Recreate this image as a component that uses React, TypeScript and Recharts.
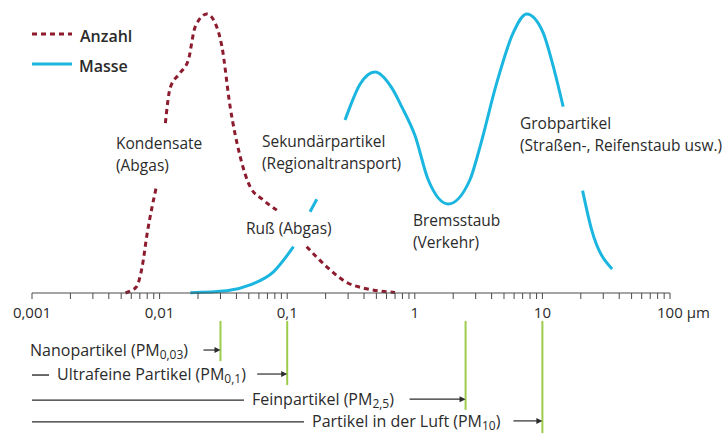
import { Line, LineChart, ReferenceLine, XAxis, YAxis } from "recharts";

// particle size in µm (log axis) and relative height of each curve; null = gap for a label
const anzahlSize = [0.0054, 0.0059, 0.0066, 0.0073, 0.008, 0.0087, 0.0095, 0.0103, 0.0111, 0.0121, 0.0145, 0.0168, 0.019, 0.0235, 0.0272, 0.0308, 0.0357, 0.0428, 0.0512, 0.0651, 0.0829, 0.11, 0.142, 0.204, 0.301, 0.393, 0.7];
const anzahlValue = [0, 0.7, 2.3, 9.4, 21.5, 30.5, 38.7, null, 60.9, 73.5, 78.9, 83.5, 95.4, 100, 96.8, 88.3, 66.8, 48.9, 38.1, 33.3, 29.7, null, 16.6, 9.4, 3.5, 1.8, 0.2];

const masseSize = [0.0174, 0.0337, 0.0512, 0.078, 0.112, 0.13, 0.151, 0.1706, 0.22, 0.284, 0.311, 0.372, 0.488, 0.66, 0.789, 1.0, 1.276, 1.83, 2.7, 3.24, 4.38, 5.9, 7.52, 10.09, 11.8, 14.55, 17, 20.65, 24.3, 35.2];
const masseValue = [0.1, 0.8, 2.9, 7.6, 16.6, null, 29.1, 33.6, null, 62, 66.8, 74.8, 79.2, 73.5, 66.8, 56.6, 40.5, 31.9, 40.5, 52.3, 75.2, 93.2, 100, 93.5, 83.5, 66.8, null, 36.7, 22.7, 8.6];

const decades = [0.001, 0.01, 0.1, 1, 10, 100];
const decadeLabels = ["0,001", "0,01", "0,1", "1", "10", "100"];
const minorSteps = [1, 2, 3, 4, 5, 6, 7, 8, 9];

// PM size classes below the axis
const pmLimits = [0.03, 0.1, 2.5, 10];
const pmNames = ["Nanopartikel", "Ultrafeine Partikel", "Feinpartikel", "Partikel in der Luft"];
const pmSubs = ["0,03", "0,1", "2,5", "10"];

// layout of the rows (y in chart units below zero, px offsets)
const rowLevel = [-20.8, -29.4, -38.4, -46.2];
const rowBottom = [-24.4, -33, -41.9, -50.2];
const rowTextOffset = [-2, 25, 220, 280];
const rowArrowLen = [17, 30, 56, 29];

const DARK_RED = "#8c1b2e";
const CYAN = "#1bb6e0";
const GREEN = "#9dcc4c";
const INK = "#2b2b2b";
const FONT = "'Open Sans', sans-serif";

const anzahlData = anzahlSize.map((x, i) => ({ x, y: anzahlValue[i] }));
const masseData = masseSize.map((x, i) => ({ x, y: masseValue[i] }));
const ticks = [...decades.slice(0, -1).flatMap((d) => minorSteps.map((m) => d * m)), 100];

const SizeTick = ({ x, y, payload }: any) => {
  const idx = decades.indexOf(payload.value);
  if (idx < 0) return <g />;
  if (idx === decades.length - 1) {
    return (
      <text x={x - 13} y={y + 17} fontSize={15} fill={INK} fontFamily={FONT}>
        {decadeLabels[idx]} µm
      </text>
    );
  }
  return (
    <text x={x} y={y + 17} textAnchor="middle" fontSize={15} fill={INK} fontFamily={FONT}>
      {decadeLabels[idx]}
    </text>
  );
};

const rowShape = (i: number) => (p: any) => {
  const { x1, y1, x2 } = p;
  const tx = x1 + rowTextOffset[i];
  const ax = x2 - rowArrowLen[i];
  return (
    <g>
      {rowTextOffset[i] > 0 && <line x1={x1} y1={y1} x2={tx - 8} y2={y1} stroke={INK} strokeWidth={1.4} />}
      <text x={tx} y={y1 + 5} fontSize={16} fill={INK} fontFamily={FONT}>
        {pmNames[i]} (PM
        <tspan dy={3} fontSize={12}>{pmSubs[i]}</tspan>
        <tspan dy={-3}>)</tspan>
      </text>
      <line x1={ax} y1={y1 - 1} x2={x2 - 5} y2={y1 - 1} stroke={INK} strokeWidth={1.2} />
      <path d={`M${x2},${y1 - 1} l-6,-3 v6 z`} fill={INK} />
    </g>
  );
};

const notes = [
  { x: 116, y: 149, lines: ["Kondensate", "(Abgas)"] },
  { x: 246, y: 234, lines: ["Ruß (Abgas)"] },
  { x: 262, y: 147, lines: ["Sekundärpartikel", "(Regionaltransport)"] },
  { x: 413, y: 226, lines: ["Bremsstaub", "(Verkehr)"] },
  { x: 520, y: 129, lines: ["Grobpartikel", "(Straßen-, Reifenstaub usw.)"] },
];

export default function App() {
  return (
    <div style={{ position: "absolute", left: 0, top: 0, width: 727, height: 434, background: "#fff" }}>
      <LineChart width={727} height={434} margin={{ top: 14, right: 57, bottom: 111, left: 32 }}>
        <XAxis
          dataKey="x"
          type="number"
          scale="log"
          domain={[0.001, 100]}
          allowDataOverflow
          ticks={ticks}
          interval={0}
          height={30}
          tickSize={6}
          stroke="#4a4a4a"
          tick={<SizeTick />}
        />
        <YAxis hide type="number" domain={[0, 100]} />
        <Line
          data={anzahlData}
          dataKey="y"
          type="monotone"
          stroke={DARK_RED}
          strokeWidth={3}
          strokeDasharray="5 4"
          dot={false}
          isAnimationActive={false}
        />
        <Line data={masseData} dataKey="y" type="monotone" stroke={CYAN} strokeWidth={3} dot={false} isAnimationActive={false} />
        {pmLimits.map((v, i) => (
          <ReferenceLine
            key={"g" + i}
            segment={[{ x: v, y: -10 }, { x: v, y: rowBottom[i] }]}
            stroke={GREEN}
            strokeWidth={2}
            ifOverflow="visible"
          />
        ))}
        {pmLimits.map((v, i) => (
          <ReferenceLine
            key={"r" + i}
            segment={[{ x: 0.001, y: rowLevel[i] }, { x: v, y: rowLevel[i] }]}
            ifOverflow="visible"
            shape={rowShape(i)}
          />
        ))}
      </LineChart>
      <svg width={727} height={434} style={{ position: "absolute", left: 0, top: 0, pointerEvents: "none" }}>
        <line x1={32} y1={34} x2={72} y2={34} stroke={DARK_RED} strokeWidth={3} strokeDasharray="5 4" />
        <text x={80} y={42} fontSize={16} fontWeight={600} fill={INK} fontFamily={FONT}>Anzahl</text>
        <line x1={32} y1={64} x2={72} y2={64} stroke={CYAN} strokeWidth={3} />
        <text x={79} y={72} fontSize={16} fontWeight={600} fill={INK} fontFamily={FONT}>Masse</text>
        {notes.map((n) => (
          <text key={n.lines[0]} x={n.x} y={n.y} fontSize={15.5} fill={INK} fontFamily={FONT}>
            {n.lines.map((l, k) => (
              <tspan key={k} x={n.x} dy={k === 0 ? 0 : 22}>{l}</tspan>
            ))}
          </text>
        ))}
      </svg>
    </div>
  );
}
